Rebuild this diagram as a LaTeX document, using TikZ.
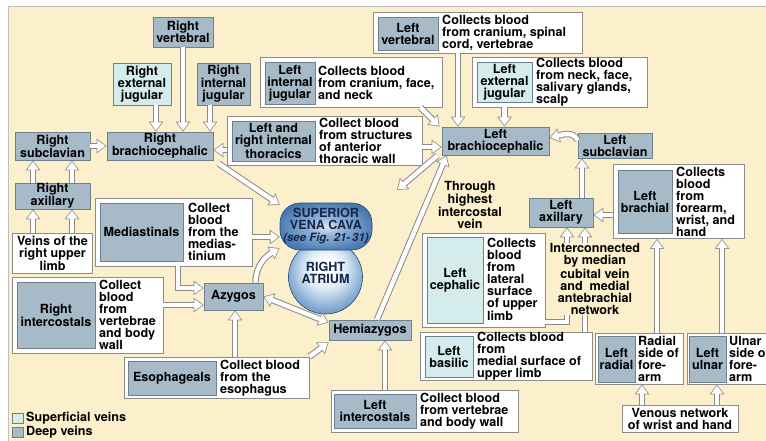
\documentclass[tikz,border=0pt]{standalone}
\usepackage{fontspec}
\setmainfont{TeX Gyre Heros}
\usetikzlibrary{arrows.meta}

\definecolor{cream}{HTML}{FBEFCC}
\definecolor{deepfill}{HTML}{A6BAC8}
\definecolor{supfill}{HTML}{D4EDEC}
\definecolor{boxline}{HTML}{6E808C}
\definecolor{noteline}{HTML}{8C8C8C}
\definecolor{veinline}{HTML}{8A8A8A}
\definecolor{svcdark}{HTML}{234C7D}
\definecolor{svcmid}{HTML}{4A7BB2}
\definecolor{svcsoft}{HTML}{8FB0D6}
\definecolor{svclight}{HTML}{DCE9F5}
\definecolor{svctext}{HTML}{15264A}

\pgfdeclareradialshading{ballshade}{\pgfpoint{0bp}{8bp}}{color(0bp)=(white); color(5bp)=(white);
  color(14bp)=(svclight); color(24bp)=(svcsoft); color(34bp)=(svcmid); color(50bp)=(svcdark)}
\pgfdeclareradialshading{svcshade}{\pgfpoint{0bp}{0bp}}{color(0bp)=(svclight); color(10bp)=(svcsoft);
  color(26bp)=(svcmid); color(50bp)=(svcdark)}

\tikzset{
  deep/.style={draw=boxline, fill=deepfill, line width=0.8pt, align=center, inner sep=0pt},
  superf/.style={deep, fill=supfill},
  note/.style={draw=noteline, fill=white, line width=0.8pt, inner sep=0pt},
  txt/.style={anchor=west, align=left, inner sep=0pt},
  vtip/.tip={Triangle[length=8pt,width=11pt]},
  vtipo/.tip={Triangle[length=10pt,width=14pt]},
  vein/.style={draw=white, line width=4.4pt, shorten >=1.2pt, -vtip,
    preaction={draw=veinline, line width=6.4pt, shorten >=0pt, -vtipo}},
  veins/.style={draw=white, line width=4.4pt, shorten >=1.2pt, shorten <=1.2pt, vtip-vtip,
    preaction={draw=veinline, line width=6.4pt, shorten >=0pt, shorten <=0pt, vtipo-vtipo}},
  heart/.style={draw=svcdark, line width=0.6pt, shade, text=svctext, align=center, inner sep=0pt},
}

\begin{document}
\begin{tikzpicture}[x=1pt,y=-1pt,font=\bfseries\fontsize{12.6}{12}\selectfont]
\useasboundingbox (0,0) rectangle (766,441);
\clip (0,0) rectangle (766,441);
\fill[white] (0,0) rectangle (766,441);
\fill[cream] (8,6) rectangle (766,441);
\draw[gray!50] (8,441) |- (766,6);

% right side
\node[deep, minimum width=60, minimum height=30] (rvert) at (183,32) {Right\\vertebral};
\node[superf, minimum width=58, minimum height=42] (rextj) at (142,84) {Right\\external\\jugular};
\node[deep, minimum width=53, minimum height=42] (rintj) at (223.5,84) {Right\\internal\\jugular};
\node[deep, minimum width=106, minimum height=28] (rbc) at (160,146) {Right\\brachiocephalic};
\node[deep, minimum width=75, minimum height=28] (rsub) at (52.5,146) {Right\\subclavian};
\node[deep, minimum width=75, minimum height=26] (rax) at (52.5,196) {Right\\axillary};
\node[note, minimum width=80, minimum height=40, align=center] (rlimb) at (52.5,253) {Veins of the\\right upper\\limb};

\node[note, minimum width=157, minimum height=68] (medW) at (173.5,232) {};
\node[deep, minimum width=83, minimum height=58] (med) at (141.5,232) {Mediastinals};
\node[txt] (medT) at (188,232) {Collect\\blood\\from the\\medias-\\tinium};

\node[note, minimum width=151, minimum height=76] (rintW) at (87.5,315) {};
\node[deep, minimum width=78, minimum height=66] (rint) at (56,315) {Right\\intercostals};
\node[txt] (rintT) at (99,315) {Collect\\blood\\from\\vertebrae\\and body\\wall};

\node[note, minimum width=185, minimum height=41] (esoW) at (216.5,377.5) {};
\node[deep, minimum width=88, minimum height=34] (eso) at (172,378) {Esophageals};
\node[txt] (esoT) at (220,378) {Collect blood\\from the\\esophagus};

\node[deep, minimum width=59, minimum height=27] (azy) at (233.5,296.5) {Azygos};
\node[deep, minimum width=82, minimum height=20] (hemi) at (370,330) {Hemiazygos};

\node[note, minimum width=187, minimum height=42] (lintW) at (424.5,411) {};
\node[deep, minimum width=82, minimum height=34] (lint) at (375,411) {Left\\intercostals};
\node[txt] (lintT) at (420,411) {Collect blood\\from vertebrae\\and body wall};

\node[note, minimum width=195, minimum height=49] (thorW) at (324.5,141) {};
\node[deep, minimum width=83, minimum height=40] (thor) at (273.5,141) {Left and\\right internal\\thoracics};
\node[txt] (thorT) at (319,141) {Collect blood\\from structures\\of anterior\\thoracic wall};

% left side
\node[note, minimum width=209, minimum height=41] (lvertW) at (477.5,32.5) {};
\node[deep, minimum width=60, minimum height=33] (lvert) at (408,33.5) {Left\\vertebral};
\node[txt] (lvertT) at (442,33) {Collects blood\\from cranium, spinal\\cord, vertebrae};

\node[note, minimum width=182, minimum height=50] (lintjW) at (351,82) {};
\node[deep, minimum width=50, minimum height=42] (lintj) at (290,83) {Left\\internal\\jugular};
\node[txt] (lintjT) at (318,83) {Collects blood\\from cranium, face,\\and neck};

\node[note, minimum width=175, minimum height=50] (lextjW) at (559.5,82) {};
\node[superf, minimum width=55, minimum height=40] (lextj) at (504.5,82) {Left\\external\\jugular};
\node[txt] (lextjT) at (536,82) {Collects blood\\from neck, face,\\salivary glands,\\scalp};

\node[deep, minimum width=107, minimum height=28] (lbc) at (495.5,141) {Left\\brachiocephalic};
\node[deep, minimum width=74, minimum height=25] (lsub) at (615,145.5) {Left\\subclavian};
\node[deep, minimum width=64, minimum height=29] (lax) at (561,212.5) {Left\\axillary};

\node[note, minimum width=131, minimum height=74] (lbrachW) at (678.5,201.5) {};
\node[deep, minimum width=54, minimum height=63] (lbrach) at (645,201.5) {Left\\brachial};
\node[txt] (lbrachT) at (676,202) {Collects\\blood\\from\\forearm,\\wrist, and\\hand};

\node[note, minimum width=123, minimum height=94] (lcephW) at (483.5,280) {};
\node[superf, minimum width=56, minimum height=86] (lceph) at (455,280) {Left\\cephalic};
\node[txt] (lcephT) at (487,279) {Collects\\blood\\from\\lateral\\surface\\of upper\\limb};

\node[note, minimum width=172, minimum height=48] (lbasW) at (506,356) {};
\node[superf, minimum width=48, minimum height=41] (lbas) at (449,356.5) {Left\\basilic};
\node[txt] (lbasT) at (477,356) {Collects blood\\from\\medial surface of\\upper limb};

\node[note, minimum width=88, minimum height=51] (lradW) at (639,358.5) {};
\node[deep, minimum width=37, minimum height=46] (lrad) at (616.5,359) {Left\\radial};
\node[txt] (lradT) at (638,359) {Radial\\side of\\fore-\\arm};

\node[note, minimum width=88, minimum height=51] (lulnW) at (731,358.5) {};
\node[deep, minimum width=37, minimum height=46] (luln) at (707.5,359) {Left\\ulnar};
\node[txt] (lulnT) at (729,359) {Ulnar\\side of\\fore-\\arm};

\node[note, minimum width=116, minimum height=27, align=center] (venet) at (680,418.5) {Venous network\\of wrist and hand};

% heart
\node[heart, circle, shading=ballshade, minimum size=74] (ra) at (325.5,277) {};
\node[text=svctext, align=center] (raT) at (325.5,273) {RIGHT\\ATRIUM};
\node[heart, shading=svcshade, rounded corners=20pt, minimum width=92, minimum height=47,
  font=\bfseries\fontsize{12.6}{12}\selectfont] (svc) at (326,226.5)
  {SUPERIOR\\VENA CAVA\\{\itshape\fontsize{11.4}{12}\selectfont (see Fig. 21-\,31)}};

\coordinate (toSVC) at (397,190);

% veins
\draw[vein] ([xshift=14pt]rextj.south) -- ([xshift=-4pt]rbc.north);
\draw[vein] (rvert.south) -- ([xshift=23pt]rbc.north);
\draw[vein] ([xshift=-13.5pt]rintj.south) -- ([xshift=50pt]rbc.north);
\draw[vein] (rsub.east) -- (rbc.west);
\foreach \dx in {-19.5,19.5}{
  \draw[vein] ([xshift=\dx pt]rax.north) -- ([xshift=\dx pt]rsub.south);
  \draw[vein] ([xshift=\dx pt]rlimb.north) -- ([xshift=\dx pt]rax.south);
}
\draw[vein] ([yshift=-9pt]thorW.west) -- ([yshift=-4pt]rbc.east);
\draw[vein] ([yshift=-6pt]thorW.east) -- ([yshift=-6pt]lbc.west);
\draw[vein] ([xshift=5pt,yshift=-3pt]rbc.south east) -- (svc.155);
\draw[vein] ([yshift=-5pt]medW.east) -- ([yshift=-10.5pt]svc.west);
\draw[vein] ([xshift=4.5pt]medW.south) |- ([yshift=8.5pt]azy.west);
\draw[vein] ([yshift=10pt]rintW.east) -- ([yshift=-8.5pt]azy.west);
\draw[vein] ([xshift=22pt]azy.north) to[out=90,in=210] (svc.205);
\draw[veins] (azy.east) -- ([yshift=-3pt]hemi.north west);
\draw[vein] (esoW.north east) -- ([yshift=-2pt]hemi.south west);
\draw[vein] ([xshift=18.5pt]esoW.north) -- ([xshift=1.5pt]azy.south);
\draw[vein] ([xshift=-39.5pt]lintW.north) -- ([xshift=15pt]hemi.south);
\draw[vein] ([xshift=-4pt]lbc.south west) -- (toSVC);
\draw[vein] ([xshift=7pt]hemi.north) -- ([xshift=5pt]lbc.south west);
\draw[vein] ([xshift=-22pt]lintjW.south east) -- ([xshift=-2pt]lbc.north west);
\draw[vein] ([xshift=-19.5pt]lvertW.south) -- ([xshift=-37.5pt]lbc.north);
\draw[vein] (lextj |- lextjW.south) -- (lextj |- lbc.north);
\draw[vein] ([yshift=-8pt]lsub.north west) to[out=110,in=15] ([yshift=3pt]lbc.east);
\draw[vein] ([xshift=21pt]lax.north) -- ([xshift=-33pt]lsub.south);
\draw[vein] ([yshift=-13.5pt]lbrachW.west) -- ([yshift=-2.5pt]lax.east);
\draw[vein] ([yshift=-42pt]lcephW.east) -| ([xshift=6pt]lax.south);
\draw[vein] ([xshift=79pt]lbasW.north) -- ([xshift=24pt]lax.south);
\draw[vein] ([xshift=18pt]lradW.north) -- ([xshift=-21.5pt]lbrachW.south);
\draw[vein] ([xshift=-9pt]lulnW.north) -- ([xshift=43.5pt]lbrachW.south);
\draw[vein] ([xshift=-38pt]venet.north) -- ([xshift=3pt]lradW.south);
\draw[vein] ([xshift=37pt]venet.north) -- ([xshift=-14pt]lulnW.south);

% labels
\node[align=center, inner sep=0pt] (thru) at (470,205) {Through\\highest\\intercostal\\vein};
\node[align=center, fill=cream, inner sep=1pt] (icon) at (595,279)
  {Interconnected\\by median\\cubital vein\\and\ \ medial\\antebrachial\\network};

% key
\node[superf, minimum width=11, minimum height=10] (keysup) at (17.5,418) {};
\node[deep, minimum width=11, minimum height=10] (keydeep) at (17.5,432.5) {};
\node[txt] (keysupT) at (26,418) {Superficial veins};
\node[txt] (keydeepT) at (26,432.5) {Deep veins};
\end{tikzpicture}
\end{document}
